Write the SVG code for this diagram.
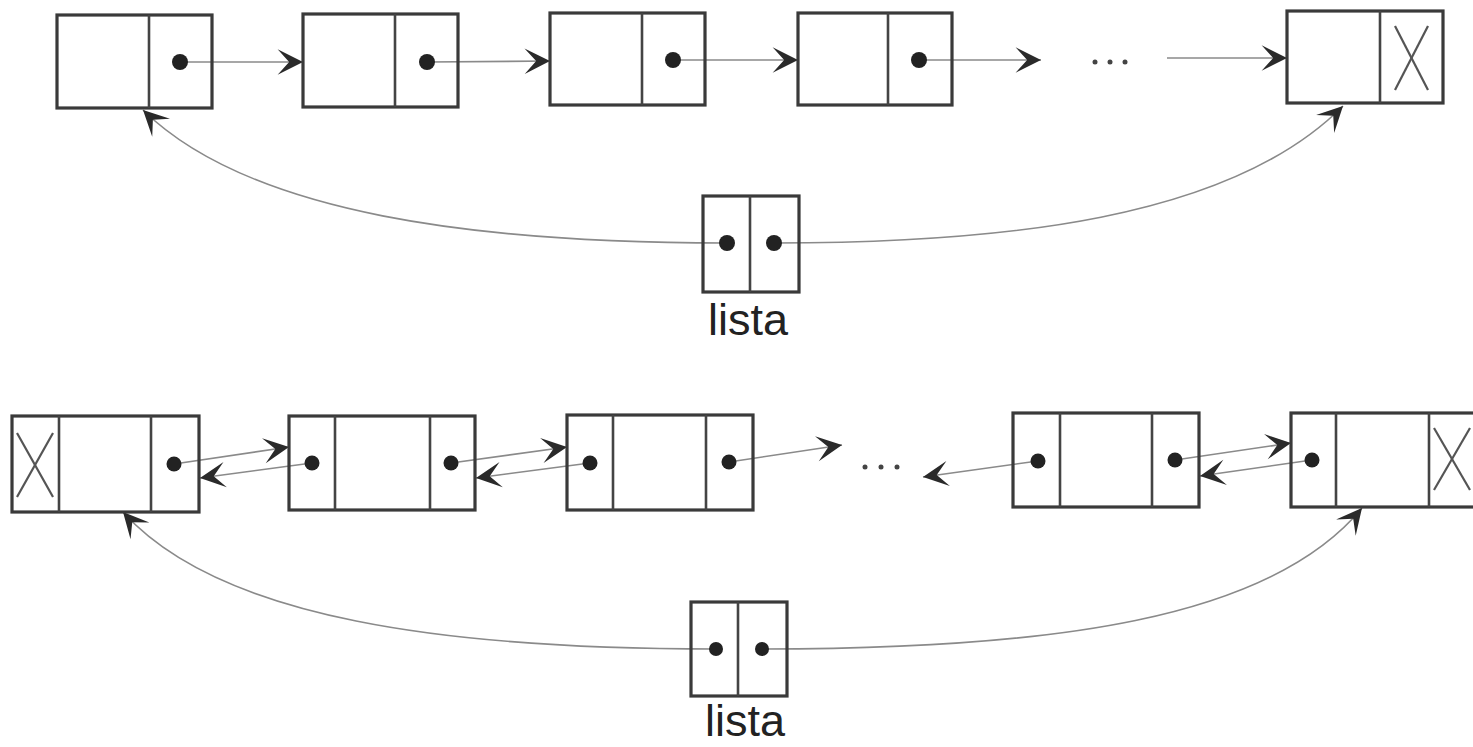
<svg xmlns="http://www.w3.org/2000/svg" width="1473" height="747" viewBox="0 0 1473 747">
<defs>
<style>
.box{fill:none;stroke:#3a3a3a;stroke-width:3.2}
.div{stroke:#444;stroke-width:2.6}
.x{stroke:#555;stroke-width:2.2}
.dot{fill:#222}
.edge{fill:none;stroke:#8a8a8a;stroke-width:1.6;marker-end:url(#ah)}
.ell{fill:#444}
.lbl{font-family:"Liberation Sans",Arial,sans-serif;font-size:45px;fill:#222;text-anchor:middle}
</style>
<marker id="ah" markerUnits="userSpaceOnUse" markerWidth="30" markerHeight="30" viewBox="-24 -13 26 26" refX="0" refY="0" orient="auto">
<path d="M0,0 L-22,-11 L-12,0 L-22,11 Z" fill="#2a2a2a"/>
</marker>
</defs>
<rect width="1473" height="747" fill="#fff"/>

<g id="connectors">
<path class="edge" d="M180,62 L303,62"/>
<path class="edge" d="M427,62 L550,61"/>
<path class="edge" d="M673,60 L798,60"/>
<path class="edge" d="M919,60 L1041,60"/>
<path class="edge" d="M1167,58 L1287,58"/>
<path class="edge" d="M727,243 C480,243 250,215 143,110"/>
<path class="edge" d="M774,243 C1000,243 1230,220 1343,106"/>
<path class="edge" d="M174,464 L289,447"/>
<path class="edge" d="M312,463 L200,478"/>
<path class="edge" d="M451,463 L567,447"/>
<path class="edge" d="M590,463 L476,478"/>
<path class="edge" d="M729,462 L842,445"/>
<path class="edge" d="M1038,461 L923,477"/>
<path class="edge" d="M1175,460 L1291,443"/>
<path class="edge" d="M1312,460 L1200,476"/>
<path class="edge" d="M716,649 C450,649 220,620 123,512"/>
<path class="edge" d="M762,649 C1050,649 1270,620 1362,508"/>
</g>

<g id="ellipsis-top">
<circle class="ell" cx="1095" cy="62" r="2.5"/>
<circle class="ell" cx="1110" cy="62" r="2.5"/>
<circle class="ell" cx="1125" cy="62" r="2.5"/>
</g>
<g id="ellipsis-bottom">
<circle class="ell" cx="865" cy="467" r="2.5"/>
<circle class="ell" cx="881" cy="467" r="2.5"/>
<circle class="ell" cx="897" cy="467" r="2.5"/>
</g>

<g id="top-node1">
<rect class="box" x="57" y="15" width="155" height="93"/>
<line class="div" x1="149" y1="15" x2="149" y2="108"/>
<circle class="dot" cx="180" cy="62" r="8"/>
</g>
<g id="top-node2">
<rect class="box" x="303" y="14" width="155" height="93"/>
<line class="div" x1="395" y1="14" x2="395" y2="107"/>
<circle class="dot" cx="427" cy="62" r="8"/>
</g>
<g id="top-node3">
<rect class="box" x="550" y="13" width="155" height="92"/>
<line class="div" x1="642" y1="13" x2="642" y2="105"/>
<circle class="dot" cx="673" cy="60" r="8"/>
</g>
<g id="top-node4">
<rect class="box" x="798" y="13" width="154" height="92"/>
<line class="div" x1="888" y1="13" x2="888" y2="105"/>
<circle class="dot" cx="919" cy="60" r="8"/>
</g>
<g id="top-node5">
<rect class="box" x="1287" y="11" width="156" height="92"/>
<line class="div" x1="1380" y1="11" x2="1380" y2="103"/>
<line class="x" x1="1395" y1="26" x2="1428" y2="90"/>
<line class="x" x1="1428" y1="26" x2="1395" y2="90"/>
</g>
<g id="top-lista">
<rect class="box" x="703" y="196" width="96" height="96"/>
<line class="div" x1="750" y1="196" x2="750" y2="292"/>
<circle class="dot" cx="727" cy="243" r="8"/>
<circle class="dot" cx="774" cy="243" r="8"/>
<text class="lbl" x="748" y="335">lista</text>
</g>

<g id="bot-nodeA">
<rect class="box" x="12" y="416" width="187" height="96"/>
<line class="div" x1="59" y1="416" x2="59" y2="512"/>
<line class="div" x1="151" y1="416" x2="151" y2="512"/>
<line class="x" x1="17" y1="433" x2="53" y2="497"/>
<line class="x" x1="53" y1="433" x2="17" y2="497"/>
<circle class="dot" cx="174" cy="464" r="7.5"/>
</g>
<g id="bot-nodeB">
<rect class="box" x="289" y="416" width="186" height="94"/>
<line class="div" x1="335" y1="416" x2="335" y2="510"/>
<line class="div" x1="430" y1="416" x2="430" y2="510"/>
<circle class="dot" cx="312" cy="463" r="7.5"/>
<circle class="dot" cx="451" cy="463" r="7.5"/>
</g>
<g id="bot-nodeC">
<rect class="box" x="567" y="415" width="186" height="95"/>
<line class="div" x1="613" y1="415" x2="613" y2="510"/>
<line class="div" x1="706" y1="415" x2="706" y2="510"/>
<circle class="dot" cx="590" cy="463" r="7.5"/>
<circle class="dot" cx="729" cy="462" r="7.5"/>
</g>
<g id="bot-nodeD">
<rect class="box" x="1013" y="413" width="186" height="94"/>
<line class="div" x1="1060" y1="413" x2="1060" y2="507"/>
<line class="div" x1="1152" y1="413" x2="1152" y2="507"/>
<circle class="dot" cx="1038" cy="461" r="7.5"/>
<circle class="dot" cx="1175" cy="460" r="7.5"/>
</g>
<g id="bot-nodeE">
<rect class="box" x="1291" y="413" width="190" height="94"/>
<line class="div" x1="1336" y1="413" x2="1336" y2="507"/>
<line class="div" x1="1429" y1="413" x2="1429" y2="507"/>
<line class="x" x1="1434" y1="428" x2="1470" y2="490"/>
<line class="x" x1="1470" y1="428" x2="1434" y2="490"/>
<circle class="dot" cx="1312" cy="460" r="7.5"/>
</g>
<g id="bot-lista">
<rect class="box" x="691" y="602" width="96" height="94"/>
<line class="div" x1="738" y1="602" x2="738" y2="696"/>
<circle class="dot" cx="716" cy="649" r="7"/>
<circle class="dot" cx="762" cy="649" r="7"/>
<text class="lbl" x="745" y="736">lista</text>
</g>
</svg>
